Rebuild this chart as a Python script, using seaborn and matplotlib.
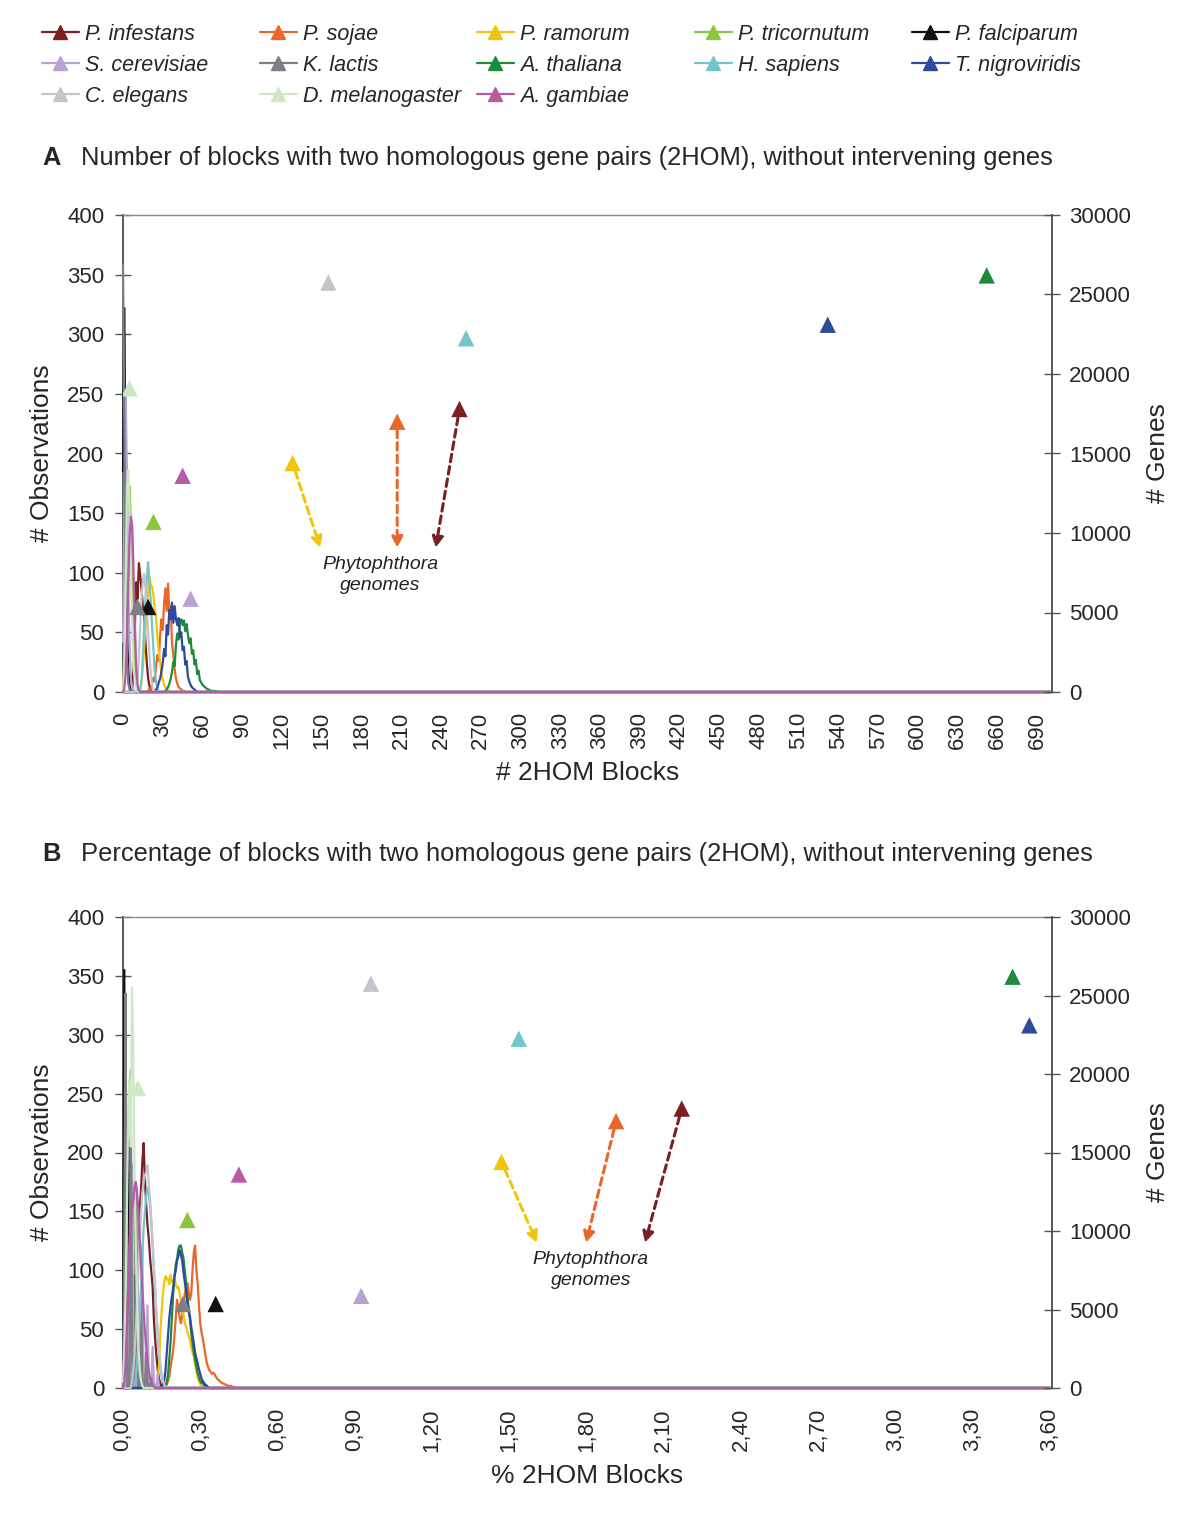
import numpy as np
import pandas as pd
import matplotlib
matplotlib.use("Agg")
import matplotlib.pyplot as plt
import seaborn as sns
from matplotlib.lines import Line2D

# ---------------- data ----------------
species = ["P. infestans", "P. sojae", "P. ramorum", "P. tricornutum", "P. falciparum",
           "S. cerevisiae", "K. lactis", "A. thaliana", "H. sapiens", "T. nigroviridis",
           "C. elegans", "D. melanogaster", "A. gambiae"]
colors = ["#7A1F22", "#E8672A", "#F2C40C", "#8CC63E", "#111111",
          "#B7A2D3", "#7D7E86", "#1F8A3C", "#72C6CB", "#2D4A9C",
          "#C4C4CA", "#CDE8C5", "#B65BA8"]

# number of genes (right axis) for each genome
genes = [17800, 17000, 14400, 10700, 5350, 5870, 5350, 26200, 22250, 23100, 25750, 19100, 13600]
# observed values (marker positions)
a_observed = [254, 207, 128, 23, 19, 51, 11, 652, 259, 532, 155, 5, 45]
b_observed = [2.17, 1.915, 1.47, 0.25, 0.36, 0.925, 0.233, 3.455, 1.537, 3.52, 0.963, 0.058, 0.45]

# Panel A: observation counts per number of 2HOM blocks (first bin given by a_start)
a_start = [7, 19, 13, 0, 0, 0, 0, 32, 13, 24, 10, 0, 1]
a_infestans = [3, 20, 55, 92, 78, 108, 98, 86, 72, 63, 41, 24, 11, 5, 1]
a_sojae = [1, 3, 2, 7, 12, 9, 22, 31, 26, 47, 61, 52, 74, 87, 68, 91, 66, 72, 41, 31, 19, 11, 7,
           4, 3, 2, 1, 1]
a_ramorum = [2, 8, 21, 38, 56, 71, 84, 96, 90, 88, 81, 69, 62, 46, 34, 26, 15, 11, 6, 4, 2, 1, 1]
a_tricornutum = [5, 32, 78, 128, 168, 172, 138, 92, 44, 19, 6, 1]
a_falciparum = [185, 322, 158, 62, 19, 5, 1]
a_cerevisiae = [42, 150, 248, 182, 88, 36, 11, 3]
a_lactis = [358, 225, 92, 27, 7, 2]
a_thaliana = [1, 2, 4, 7, 11, 17, 25, 22, 40, 49, 44, 58, 61, 56, 60, 51, 57, 48, 41, 45, 32, 35,
              23, 27, 15, 18, 10, 8, 6, 5, 4, 3, 2, 2, 1, 1, 1, 0, 1]
a_sapiens = [2, 10, 31, 54, 79, 96, 109, 91, 76, 54, 36, 17, 8, 3, 1]
a_nigroviridis = [1, 2, 4, 8, 11, 17, 24, 36, 30, 56, 48, 69, 61, 75, 58, 72, 61, 56, 62, 46, 50,
                  35, 38, 23, 26, 13, 9, 6, 4, 3, 2, 1]
a_elegans = [2, 11, 29, 56, 79, 93, 99, 87, 71, 49, 31, 14, 6, 2]
a_melanogaster = [0, 22, 88, 172, 186, 148, 96, 51, 21, 8, 2]
a_gambiae = [3, 15, 46, 91, 131, 147, 139, 101, 56, 21, 6, 1]
a_series = [a_infestans, a_sojae, a_ramorum, a_tricornutum, a_falciparum, a_cerevisiae, a_lactis,
            a_thaliana, a_sapiens, a_nigroviridis, a_elegans, a_melanogaster, a_gambiae]

# Panel B: observation counts per 0.005 % bin of 2HOM blocks (first bin given by b_start)
b_bin_width = 0.005
b_start = [6, 33, 25, 1, 0, 0, 0, 33, 9, 30, 7, 0, 1]
b_infestans = [3, 10, 25, 45, 70, 101, 128, 152, 168, 192, 208, 178, 156, 139, 127, 111, 99, 86,
               58, 41, 27, 15, 8, 4, 1]
b_sojae = [1, 3, 6, 10, 18, 25, 32, 45, 60, 75, 68, 60, 55, 62, 70, 80, 85, 89, 82, 75, 80, 100,
           115, 121, 100, 89, 70, 55, 47, 42, 35, 28, 22, 18, 15, 14, 12, 13, 12, 10, 8, 7, 6, 5,
           4, 4, 3, 3, 2, 2, 1, 2, 1, 1]
b_ramorum = [1, 3, 8, 20, 47, 65, 80, 89, 95, 92, 93, 88, 96, 90, 92, 92, 88, 85, 86, 80, 75, 69,
             62, 55, 52, 48, 44, 41, 35, 30, 27, 20, 14, 9, 5, 3, 2, 1]
b_tricornutum = [10, 40, 82, 118, 152, 163, 178, 160, 128, 102, 68, 46, 24, 12, 5, 2]
b_falciparum = [0, 355, 40, 0, 0, 235, 20, 0, 0, 95, 8, 0, 0, 0, 40, 4, 0, 0, 0, 12, 0, 0, 0, 0, 3]
b_cerevisiae = [20, 0, 0, 150, 20, 0, 0, 190, 30, 0, 0, 170, 25, 0, 0, 120, 15, 0, 0, 70, 8, 0,
                0, 35, 3, 0, 0, 12]
b_lactis = [0, 120, 335, 30, 0, 0, 270, 30, 0, 0, 170, 20, 0, 0, 80, 10, 0, 0, 30, 3, 0, 0, 8]
b_thaliana = [2, 5, 12, 25, 40, 60, 80, 95, 105, 110, 118, 121, 121, 115, 110, 100, 89, 78, 68,
              58, 47, 38, 30, 24, 18, 13, 9, 6, 4, 5, 2, 1, 1]
b_sapiens = [3, 10, 22, 41, 59, 86, 109, 136, 149, 163, 170, 164, 156, 139, 121, 99, 81, 59, 43,
             27, 18, 10, 5, 2, 1]
b_nigroviridis = [1, 3, 6, 15, 30, 45, 60, 70, 78, 85, 95, 100, 108, 112, 117, 113, 108, 98, 90,
                  82, 72, 65, 61, 52, 45, 38, 30, 25, 21, 16, 12, 8, 6, 4, 3, 2, 1]
b_elegans = [5, 15, 30, 50, 76, 99, 126, 148, 166, 174, 181, 183, 189, 174, 161, 143, 126, 104,
             86, 64, 49, 31, 21, 12, 7, 3, 1]
b_melanogaster = [5, 30, 80, 150, 230, 262, 205, 340, 288, 182, 118, 72, 35, 15, 6, 2]
b_gambiae = [5, 20, 52, 88, 121, 138, 152, 158, 171, 175, 164, 151, 128, 106, 84, 66, 49, 36, 24,
             15, 9, 5, 3, 1]
b_series = [b_infestans, b_sojae, b_ramorum, b_tricornutum, b_falciparum, b_cerevisiae, b_lactis,
            b_thaliana, b_sapiens, b_nigroviridis, b_elegans, b_melanogaster, b_gambiae]

# axis ticks / labels
a_xticks = list(range(0, 691, 30))
b_xticks = [0.0, 0.3, 0.6, 0.9, 1.2, 1.5, 1.8, 2.1, 2.4, 2.7, 3.0, 3.3, 3.6]
b_xticklabels = ["0,00", "0,30", "0,60", "0,90", "1,20", "1,50", "1,80", "2,10", "2,40",
                 "2,70", "3,00", "3,30", "3,60"]
left_ticks = list(range(0, 401, 50))
right_ticks = list(range(0, 30001, 5000))

# annotation: Phytophthora arrows (infestans, sojae, ramorum) pointing to label
phyto_idx = [0, 1, 2]
a_arrow_end_x = [236, 207, 149]
b_arrow_end_x = [2.027, 1.798, 1.608]
a_arrow_end_y = 9060
b_arrow_end_y = 9240
a_text_pos = (194, 7360)
b_text_pos = (1.817, 7520)

# ---------------- style ----------------
sns.set_theme(style="white")
plt.rcParams["font.family"] = ["Liberation Sans", "DejaVu Sans"]

W, H = 1200, 1518
fig = plt.figure(figsize=(W / 100, H / 100), dpi=100)


def long_frame(starts, series, n_bins, bin_width):
    frames = []
    for name, s, vals in zip(species, starts, series):
        y = np.zeros(n_bins)
        y[s:s + len(vals)] = vals
        frames.append(pd.DataFrame({"x": np.arange(n_bins) * bin_width, "obs": y, "species": name}))
    return pd.concat(frames, ignore_index=True)


def draw_panel(rect, df, observed, xlim, xticks, xticklabels, xlabel, hpx,
               arrow_end_x, arrow_end_y, text_pos, xlabel_top):
    ax = fig.add_axes(rect)
    sns.lineplot(data=df, x="x", y="obs", hue="species", hue_order=species, palette=colors,
                 estimator=None, sort=False, legend=False, linewidth=1.6, ax=ax)
    for ln in ax.lines:
        ln.set_clip_on(False)
        ln.set_zorder(3)
    ax.set_xlim(*xlim)
    ax.set_ylim(0, 400)
    ax.set_xticks(xticks)
    ax.set_xticklabels(xticklabels, rotation=90)
    ax.set_yticks(left_ticks)
    ax.tick_params(axis="both", direction="inout", length=11, width=1, color="#555555",
                   labelsize=16, pad=8)
    ax.tick_params(axis="x", pad=9)
    ax.set_xlabel(xlabel, fontsize=19, va="top")
    ax.set_ylabel("# Observations", fontsize=19, va="center")
    ax.yaxis.set_label_coords((42 - 123) / 929, 0.5)
    ax.xaxis.set_label_coords(0.5, -(xlabel_top - 0) / hpx)
    for side in ["top", "bottom"]:
        ax.spines[side].set_color("#8a8a8a")
        ax.spines[side].set_linewidth(1.0)
    ax.spines["left"].set_color("#444444")
    ax.spines["right"].set_visible(False)
    ax.grid(False)

    ax2 = ax.twinx()
    ax2.set_ylim(0, 30000)
    ax2.set_yticks(right_ticks)
    ax2.tick_params(axis="y", direction="inout", length=11, width=1, color="#555555",
                    labelsize=16, pad=7)
    for side in ["top", "bottom", "left"]:
        ax2.spines[side].set_visible(False)
    ax2.spines["right"].set_color("#444444")
    ax2.set_ylabel("# Genes", fontsize=19, va="center")
    ax2.yaxis.set_label_coords((1158 - 123) / 929, 0.5)
    ax2.grid(False)

    # dashed arrows from Phytophthora markers to label
    for k, i in enumerate(phyto_idx):
        ax2.annotate("", xy=(arrow_end_x[k], arrow_end_y), xytext=(observed[i], genes[i]),
                     arrowprops=dict(arrowstyle="-|>", color=colors[i], lw=2.2,
                                     linestyle=(0, (2.5, 1.6)), mutation_scale=16,
                                     shrinkA=6, shrinkB=0))
    ax2.text(text_pos[0], text_pos[1], "Phytophthora\ngenomes", style="italic", fontsize=14,
             ha="center", va="center", linespacing=1.25, color="#222222")

    mk = pd.DataFrame({"x": observed, "genes": genes, "species": species})
    sns.scatterplot(data=mk, x="x", y="genes", hue="species", hue_order=species, palette=colors,
                    marker="^", s=140, linewidth=0, legend=False, ax=ax2, zorder=5)
    ax2.set_xlabel("")
    return ax, ax2


axA_rect = [123 / W, 1 - 692 / H, 929 / W, 477 / H]
axB_rect = [123 / W, 1 - 1388 / H, 929 / W, 471 / H]

dfA = long_frame(a_start, a_series, 701, 1)
dfB = long_frame(b_start, b_series, 721, b_bin_width)

axA, axA2 = draw_panel(axA_rect, dfA, a_observed, (0, 701.3), a_xticks, [str(t) for t in a_xticks],
                       "# 2HOM Blocks", 477, a_arrow_end_x, a_arrow_end_y, a_text_pos, 761 - 692)
axB, axB2 = draw_panel(axB_rect, dfB, b_observed, (0, 3.608), b_xticks, b_xticklabels,
                       "% 2HOM Blocks", 471, b_arrow_end_x, b_arrow_end_y, b_text_pos, 1464 - 1388)

# titles
fig.text(42 / W, 1 - 158 / H, "A", fontsize=18.4, fontweight="bold", va="center", ha="left")
fig.text(81 / W, 1 - 158 / H,
         "Number of blocks with two homologous gene pairs (2HOM), without intervening genes",
         fontsize=18.4, va="center", ha="left")
fig.text(42 / W, 1 - 854 / H, "B", fontsize=18.4, fontweight="bold", va="center", ha="left")
fig.text(81 / W, 1 - 854 / H,
         "Percentage of blocks with two homologous gene pairs (2HOM), without intervening genes",
         fontsize=18.4, va="center", ha="left")

# legend: 5 columns
col_x = [42, 260, 477, 695, 912]
for c, x in enumerate(col_x):
    idx = list(range(c, len(species), 5))
    handles = [Line2D([0], [0], color=colors[i], lw=1.6, marker="^", markersize=9.5) for i in idx]
    labels = [species[i] for i in idx]
    fig.legend(handles, labels, loc="upper left", bbox_to_anchor=(x / W, 1 - 24 / H),
               frameon=False, borderpad=0, borderaxespad=0, handlelength=1.7,
               handletextpad=0.3, labelspacing=0.46,
               prop={"style": "italic", "size": 15.5, "family": ["Liberation Sans", "DejaVu Sans"]})

fig.savefig("out.png", dpi=100, facecolor="white")
